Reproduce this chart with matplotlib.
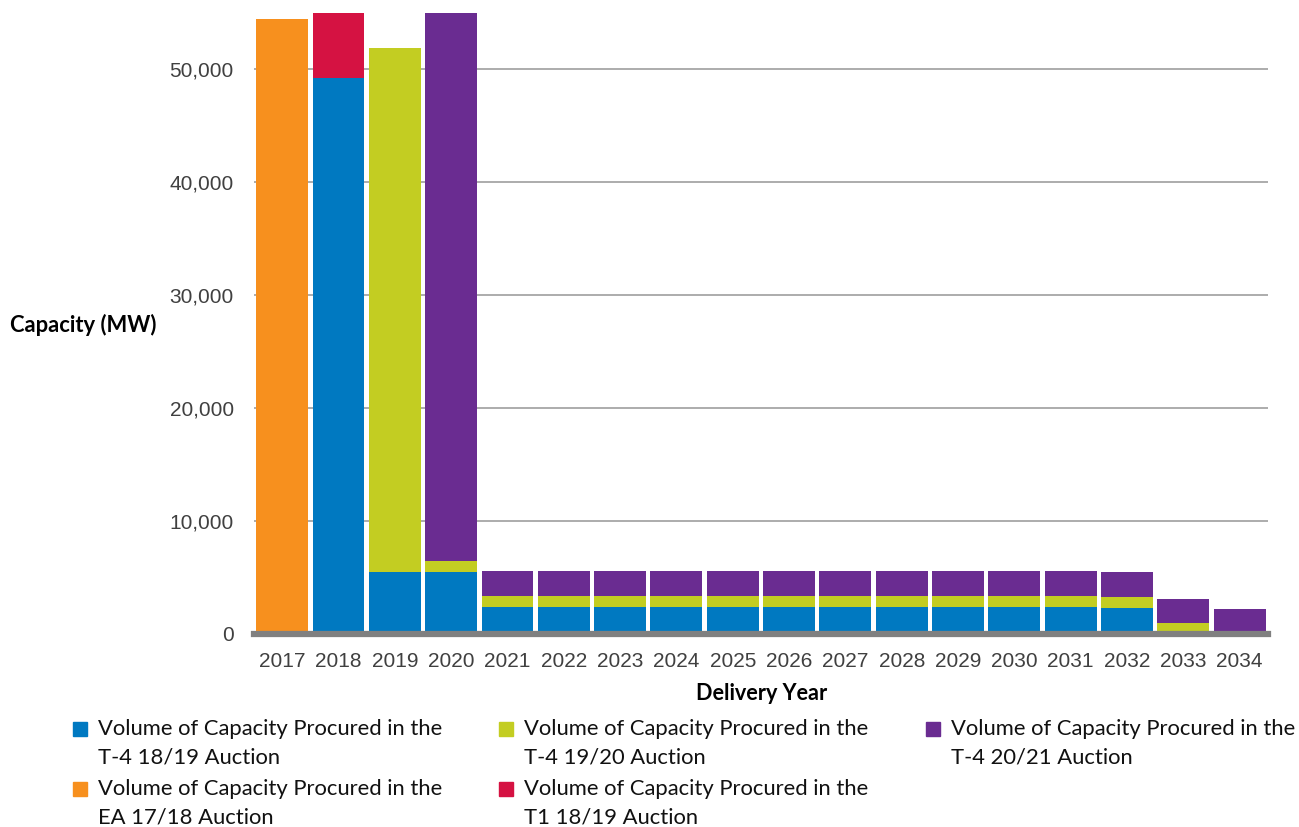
import numpy as np
import matplotlib
matplotlib.use('Agg')
import matplotlib.pyplot as plt
from matplotlib.patches import Rectangle
from matplotlib.ticker import FuncFormatter

# 交付年份
years = [str(y) for y in range(2017, 2035)]

# 各次拍卖采购容量 (MW)
t4_1819 = [0, 49220, 5470, 5470] + [2370] * 11 + [2330, 0, 0]
t4_1920 = [0, 0, 46440, 1005] + [1000] * 11 + [950, 980, 0]
t4_2021 = [0, 0, 0, 48900] + [2190] * 11 + [2220, 2150, 2190]
ea_1718 = [54460] + [0] * 17
t1_1819 = [0, 5800] + [0] * 16

labels = [
    ['Volume of Capacity Procured in the', 'T-4 18/19 Auction'],
    ['Volume of Capacity Procured in the', 'T-4 19/20 Auction'],
    ['Volume of Capacity Procured in the', 'T-4 20/21 Auction'],
    ['Volume of Capacity Procured in the', 'EA 17/18 Auction'],
    ['Volume of Capacity Procured in the', 'T1 18/19 Auction'],
]
colors = ['#0079C1', '#C3CD22', '#6A2C91', '#F7901E', '#D51242']

fig = plt.figure(figsize=(12.99, 8.27), dpi=100)
ax = fig.add_axes([0.1955, 0.2334, 0.7805, 0.7509])

x = np.arange(len(years))
w = 0.92
b1 = np.array(t4_1819, dtype=float)
b2 = b1 + np.array(t4_1920)
ax.bar(x, t4_1819, w, color=colors[0], zorder=3)
ax.bar(x, t4_1920, w, bottom=b1, color=colors[1], zorder=3)
ax.bar(x, t4_2021, w, bottom=b2, color=colors[2], zorder=3)
ax.bar(x, ea_1718, w, color=colors[3], zorder=3)
ax.bar(x, t1_1819, w, bottom=b1, color=colors[4], zorder=3)

ax.set_xlim(-0.5, len(years) - 0.5)
ax.set_ylim(0, 55000)
ax.set_yticks(range(0, 50001, 10000))
ax.yaxis.set_major_formatter(FuncFormatter(lambda v, p: f'{int(v):,}'))
ax.set_xticks(x)
ax.set_xticklabels(years)
ax.grid(axis='y', color='#A6A6A6', linewidth=1.3, zorder=0)
for s in ['top', 'right', 'left']:
    ax.spines[s].set_visible(False)
ax.spines['bottom'].set_color('#808080')
ax.spines['bottom'].set_linewidth(4.5)
ax.spines['bottom'].set_zorder(4)
ax.tick_params(axis='both', length=0, labelsize=15, labelcolor='#404040')
ax.tick_params(axis='y', pad=14.5)
ax.tick_params(axis='x', pad=13)
for t in ax.get_xticklabels() + ax.get_yticklabels():
    t.set_fontfamily('Liberation Sans')

fig.text(83 / 1299, 1 - 325 / 827, 'Capacity (MW)', fontsize=15.8, fontweight='bold',
         family='Lato', ha='center', va='center')
fig.text(762 / 1299, 1 - 693 / 827, 'Delivery Year', fontsize=15.6, fontweight='bold',
         family='Lato', ha='center', va='center')

# 图例（手动排布，方块对齐首行）
pos = [(80, 729), (506, 729), (933, 729), (80, 789), (506, 789)]
for (px, py), lab, c in zip(pos, labels, colors):
    fig.add_artist(Rectangle(((px - 7) / 1299, 1 - (py + 7) / 827), 14 / 1299, 14 / 827,
                             transform=fig.transFigure, color=c))
    for k, line in enumerate(lab):
        fig.text((px + 18) / 1299, 1 - (py + 28 * k) / 827, line, fontsize=15.8,
                 family='Lato', ha='left', va='center', color='#111111')

fig.savefig('out.png', dpi=100)
